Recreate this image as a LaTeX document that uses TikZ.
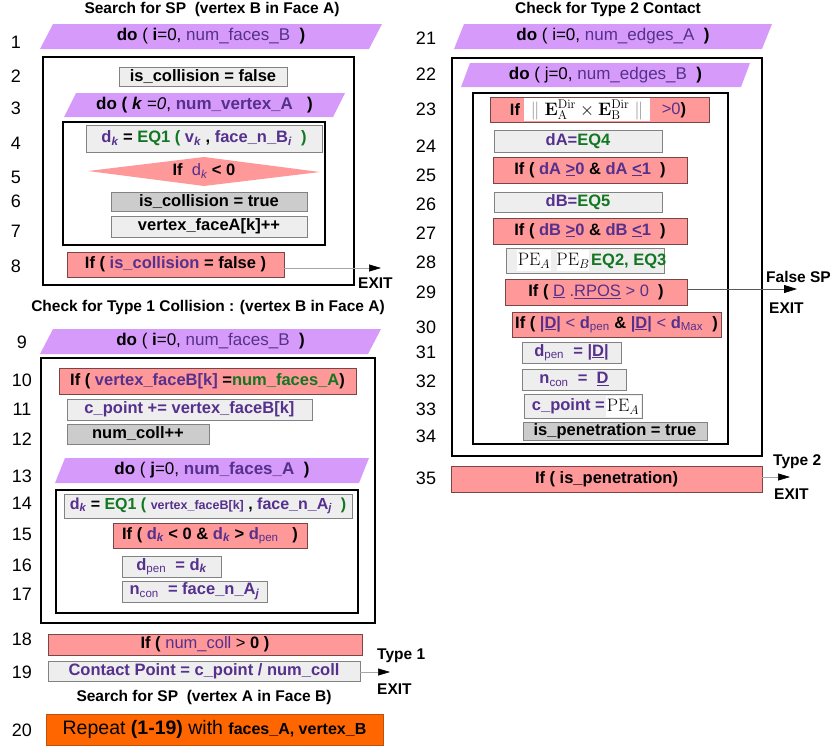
\documentclass[tikz,border=0pt]{standalone}
\usepackage{fix-cm}
\usepackage[no-math]{fontspec}
\setmainfont{Liberation Sans}
\usetikzlibrary{arrows.meta}

\definecolor{paraFill}{RGB}{214,155,250}
\definecolor{txtPurple}{RGB}{85,48,141}
\definecolor{txtGreen}{RGB}{18,118,34}
\definecolor{pinkFill}{RGB}{255,153,153}
\definecolor{pinkLine}{RGB}{120,70,70}
\definecolor{lightFill}{RGB}{238,238,238}
\definecolor{lightLine}{RGB}{130,130,130}
\definecolor{darkFill}{RGB}{204,204,204}
\definecolor{orangeFill}{RGB}{255,102,0}
\definecolor{orangeLine}{RGB}{190,80,10}

\newcommand{\pu}[1]{\textcolor{txtPurple}{#1}}
\newcommand{\gn}[1]{\textcolor{txtGreen}{#1}}
\newcommand{\isub}[1]{\textsubscript{\itshape #1}}
\newcommand{\rsub}[1]{\textsubscript{\mdseries #1}}
\newcommand{\fsbase}{\fontsize{16.5}{19}\selectfont}

% rectangular step: style, name, x1, x2, y1, y2, text
\newcommand{\rowbox}[7]{%
  \node[#1, minimum width={(#4-#3)*1pt}, minimum height={(#6-#5)*1pt}] (#2)
    at ({(#3+#4)/2},{(#5+#6)/2}) {#7};}
% loop header: name, x bottom-left, x top-right, y top, y bottom, slant, text
\newcommand{\loophead}[7]{%
  \fill[paraFill] ({#2+#6},#4) -- (#3,#4) -- ({#3-#6},#5) -- (#2,#5) -- cycle;
  \node[dotext] (#1) at ({(#2+#3)/2},{(#4+#5)/2}) {#7};}

\begin{document}
\begin{tikzpicture}[x=1pt,y=-1pt,
  stepbase/.style={rectangle, inner sep=0pt, font=\fsbase\bfseries, text=black},
  lgbox/.style={stepbase, fill=lightFill, draw=lightLine, line width=0.8pt},
  dgbox/.style={stepbase, fill=darkFill, draw=lightLine, line width=0.8pt},
  pkbox/.style={stepbase, fill=pinkFill, draw=pinkLine, line width=0.8pt},
  orbox/.style={stepbase, fill=orangeFill, draw=orangeLine, line width=0.8pt},
  framebox/.style={rectangle, inner sep=0pt, draw=black, line width=1.6pt},
  dotext/.style={inner sep=0pt, font=\fontsize{17}{20}\selectfont, text=black},
  plain/.style={inner sep=0pt, font=\fsbase\bfseries, text=black},
  mathtxt/.style={inner sep=0pt, font=\fontsize{18}{20}\selectfont},
  numlbl/.style={inner sep=0pt, font=\fontsize{18}{20}\selectfont, text=black},
  ttl/.style={inner sep=0pt, font=\fontsize{15.5}{18}\selectfont\bfseries},
  exitlbl/.style={inner sep=0pt, anchor=west, font=\fontsize{15.5}{18}\selectfont\bfseries},
  exitline/.style={draw=black!35, line width=0.6pt,
    -{Triangle[length=12pt,width=7pt,color=black]}},
  exitdark/.style={draw=black!65, line width=0.8pt,
    -{Triangle[length=13pt,width=8pt,color=black]}}]
\useasboundingbox (0,0) rectangle (834,750);

%% ---------------- left column: search for SP ----------------
\node[ttl] (t1) at (212,9) {Search for SP\ \ (vertex B in Face A)};

\loophead{r1}{40}{382}{24}{49}{13}{\textbf{do} ( \textbf{i}=0, \pu{num\_faces\_B}\ \ \textbf{)}}
\rowbox{framebox}{f2}{43}{354}{57}{285}{}
\rowbox{lgbox}{r2}{119}{287}{67}{86}{is\_collision = false}
\loophead{r3}{64}{345}{93}{117}{12}{\textbf{do (} \textbf{\itshape k} \textit{=0}, \pu{\textbf{num\_vertex\_A}}\ \ \ \textbf{)}}
\rowbox{framebox}{f4}{63}{325}{122}{245}{}
\rowbox{lgbox}{r4}{86}{322}{125}{152}{\pu{d\isub{k}} = \gn{EQ1 (} \pu{v\isub{k}} , \pu{face\_n\_B\isub{i}}\ \ \gn{)}}
\fill[pinkFill] (88,171) -- (204,157) -- (320,172) -- (204,186) -- cycle;
\node[plain] (r5) at (204,171) {If\ \ \pu{\mdseries d\isub{k}} < 0};
\rowbox{dgbox}{r6}{111}{307}{192}{211}{is\_collision = true}
\rowbox{lgbox}{r7}{111}{307}{216}{237}{vertex\_faceA[k]++}
\rowbox{pkbox}{r8}{67}{284}{252}{277}{If ( \pu{is\_collision} = false )}
\coordinate (x8) at (381,268);
\draw[exitline] (r8.east |- x8) -- (x8);
\node[exitlbl] (e8) at (358,283) {EXIT};

%% ---------------- left column: type 1 collision ----------------
\node[ttl] (t2) at (208,307) {Check for Type 1 Collision : (vertex B in Face A)};

\loophead{r9}{40}{381}{329}{354}{13}{\textbf{do} ( \textbf{i}=0, \pu{num\_faces\_B}\ \ \textbf{)}}
\rowbox{framebox}{f10}{41}{375}{358}{623}{}
\rowbox{pkbox}{r10}{59}{356}{368}{394}{If ( \pu{vertex\_faceB[k]} =\gn{num\_faces\_A})}
\rowbox{lgbox}{r11}{67}{312}{399}{420}{\pu{c\_point += vertex\_faceB[k]}}
\rowbox{dgbox}{r12}{67}{209}{424}{444}{num\_coll++}
\loophead{r13}{55}{369}{458}{483}{10}{\textbf{do} ( \textbf{j}=0, \pu{\textbf{num\_faces\_A}}\ \ \textbf{)}}
\rowbox{framebox}{f14}{56}{358}{490}{613}{}
\rowbox{lgbox}{r14}{64}{352}{494}{518}{\fontsize{16}{19}\selectfont\pu{d\isub{k}} = \gn{EQ1 (} \pu{\fontsize{12.5}{15}\selectfont vertex\_faceB[k]} , \pu{face\_n\_A\isub{j}}\ \ \gn{)}}
\rowbox{pkbox}{r15}{113}{307}{523}{548}{If ( \pu{d\isub{k}} < 0 \& \pu{d\isub{k}} > \pu{d\rsub{pen}}\ \ \ )}
\rowbox{lgbox}{r16}{122}{221}{556}{577}{\pu{d\rsub{pen}\ \ = d\isub{k}}}
\rowbox{lgbox}{r17}{122}{267}{581}{602}{\pu{n\rsub{con}\ \ = face\_n\_A\isub{j}}}
\rowbox{pkbox}{r18}{48}{362}{634}{655}{If ( \pu{\mdseries num\_coll} {\mdseries >} 0 )}
\rowbox{lgbox}{r19}{48}{360}{661}{681}{\pu{Contact Point = c\_point / num\_coll}}
\coordinate (x19) at (390,672);
\draw[exitline] (r19.east |- x19) -- (x19);
\node[exitlbl] (t19) at (377,656) {Type 1};
\node[exitlbl] (e19) at (377,689) {EXIT};

\node[ttl] (t3) at (204,697) {Search for SP\ \ (vertex A in Face B)};
\rowbox{orbox}{r20}{46}{383}{714}{745}{\fontsize{19.5}{22}\selectfont\mdseries Repeat \textbf{(1-19)} with \textbf{\fontsize{16}{19}\selectfont faces\_A, vertex\_B}}

%% ---------------- right column: type 2 contact ----------------
\node[ttl] (t4) at (608,9) {Check for Type 2 Contact};

\loophead{r21}{454}{772}{24}{49}{10}{\textbf{do} ( i=0, \pu{num\_edges\_A}\ \ \textbf{)}}
\rowbox{framebox}{f22}{452}{762}{58}{456}{}
\loophead{r22}{461}{750}{63}{87}{9}{\textbf{do} ( j=0, \pu{num\_edges\_B}\ \ \textbf{)}}
\rowbox{framebox}{f23}{473}{728}{93}{444}{}
\rowbox{pkbox}{r23}{490}{709}{97}{122}{}
\fill[white] (524,98) rectangle (650,121);
\node[plain] (r23a) at (515,110) {If};
\node[mathtxt] (r23b) at (587,110)
  {$\textcolor{black!45}{\|}\;\mathbf{E}_{\mathrm{A}}^{\mathrm{Dir}}\times\mathbf{E}_{\mathrm{B}}^{\mathrm{Dir}}\;\textcolor{black!45}{\|}$};
\node[plain] (r23c) at (674,110) {\pu{\mdseries >0})};
\rowbox{lgbox}{r24}{494}{662}{130}{152}{\pu{dA=}\gn{EQ4}}
\rowbox{pkbox}{r25}{493}{687}{157}{183}{If ( \pu{dA \underline{>}0} \& \pu{dA \underline{<}1}\ \ )}
\rowbox{lgbox}{r26}{494}{662}{192}{212}{\pu{dB=}\gn{EQ5}}
\rowbox{pkbox}{r27}{493}{687}{218}{244}{If ( \pu{dB \underline{>}0} \& \pu{dB \underline{<}1}\ \ )}
\rowbox{lgbox}{r28}{506}{664}{248}{273}{}
\fill[white] (517,250) rectangle (551,271);
\fill[white] (557,250) rectangle (589,271);
\node[mathtxt] (r28a) at (534,261) {$\mathrm{PE}_A$};
\node[mathtxt] (r28b) at (573,261) {$\mathrm{PE}_B$};
\node[plain, anchor=west] (r28c) at (591,261) {\gn{EQ2, EQ3}};
\rowbox{pkbox}{r29}{505}{687}{279}{305}{If ( \pu{\mdseries\underline{D} .\underline{RPOS} > 0}\ \ )}
\coordinate (x29) at (797,289);
\draw[exitdark] (r29.east |- x29) -- (x29);
\node[exitlbl] (t29) at (766,277) {False SP};
\node[exitlbl] (e29) at (769,308) {EXIT};
\rowbox{pkbox}{r30}{512}{721}{312}{337}{If ( \pu{|\underline{D}|} \pu{\mdseries <} \pu{d\rsub{pen}} \& \pu{|\underline{D}|} \pu{\mdseries <} \pu{d\rsub{Max}}\ \ )}
\rowbox{lgbox}{r31}{522}{621}{342}{363}{\pu{d\rsub{pen}\ \ = |\underline{D}|}}
\rowbox{lgbox}{r32}{522}{626}{369}{390}{\pu{n\rsub{con}\ \ =\ \ \underline{D}}}
\rowbox{lgbox}{r33}{524}{642}{394}{418}{}
\fill[white] (606,396) rectangle (641,417);
\node[plain, anchor=east] (r33a) at (605,406) {\pu{c\_point =}};
\node[mathtxt] (r33b) at (623,407) {$\mathrm{PE}_A$};
\rowbox{dgbox}{r34}{523}{707}{422}{440}{is\_penetration = true}
\rowbox{pkbox}{r35}{451}{762}{466}{492}{If ( is\_penetration)}
\coordinate (x35) at (790,477);
\draw[exitline] (r35.east |- x35) -- (x35);
\node[exitlbl] (t35) at (773,462) {Type 2};
\node[exitlbl] (e35) at (774,494) {EXIT};

%% ---------------- line numbers ----------------
\foreach \n/\yy in {1/42,2/76,3/108,4/143,5/177,6/201,7/231,8/266}
  \node[numlbl] (n\n) at (16,\yy) {\n};
\foreach \n/\yy in {9/342,10/380,11/409,12/439,13/476,14/503,15/534,16/565,17/594,18/639,19/672,20/730}
  \node[numlbl] (n\n) at (22,\yy) {\n};
\foreach \n/\yy in {21/38,22/74,23/109,24/146,25/175,26/204,27/233,28/262,29/292,30/327,31/352,32/381,33/409,34/436,35/478}
  \node[numlbl] (n\n) at (426,\yy) {\n};
\end{tikzpicture}
\end{document}
